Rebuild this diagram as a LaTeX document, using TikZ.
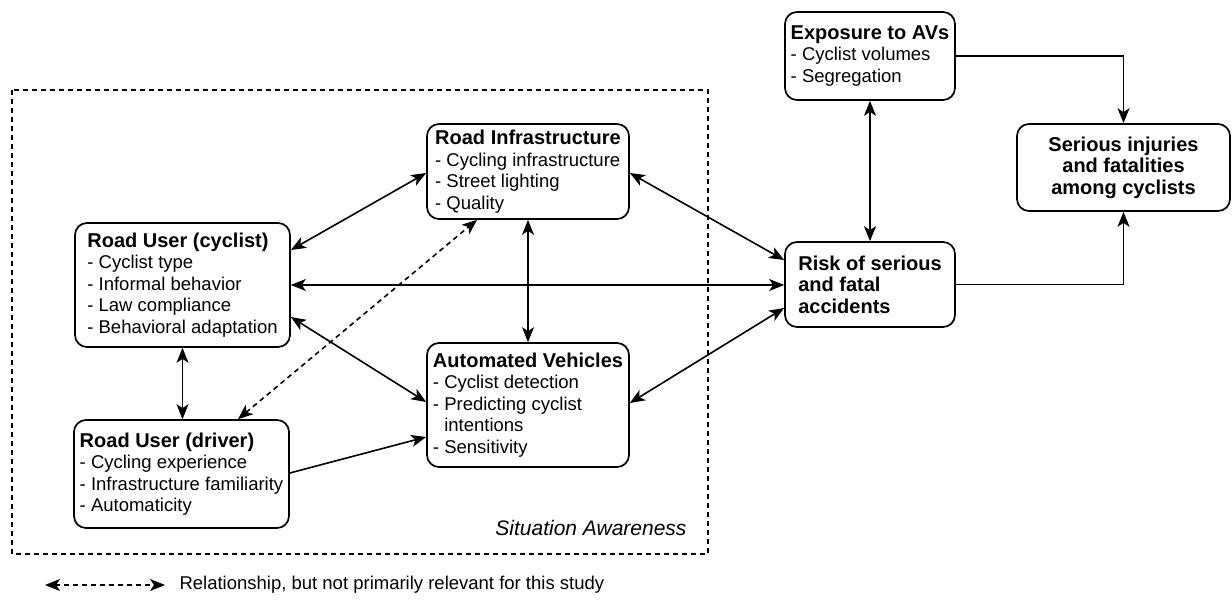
\documentclass[tikz,border=0pt]{standalone}
\usepackage{fontspec}
\setmainfont{Liberation Sans}
\usetikzlibrary{arrows.meta,calc}

\tikzset{
  tip/.tip={Stealth[length=15pt,width=12pt,inset=4pt]},
  box/.style={draw, line width=1.7pt, rounded corners=12pt, align=left,
    inner sep=0pt, font=\fontsize{18.5}{21.5}\selectfont},
  ctrbox/.style={box, align=center},
  link/.style={line width=1.6pt, tip-tip},
  oneway/.style={line width=1.6pt, -tip},
  weak/.style={link, dash pattern=on 5pt off 4pt},
  frame/.style={line width=1.4pt, dash pattern=on 5pt off 4pt},
}
\newcommand{\hd}[1]{{\fontsize{20}{21.5}\selectfont\bfseries #1}}

\begin{document}
\begin{tikzpicture}[x=1pt,y=-1pt]
  \fill[white] (0,0) rectangle (1232,601);
  \useasboundingbox (0,0) rectangle (1232,601);

  % situation awareness frame
  \draw[frame] (12,90) rectangle (708,554);
  \node[anchor=east, font=\fontsize{21}{23}\selectfont\itshape] (sa) at (690,528) {Situation Awareness};

  % factor boxes
  \node[box, minimum width=215pt, minimum height=124pt] (cyclist) at (182.5,285)
    {\hd{Road User (cyclist)}\\- Cyclist type\\- Informal behavior\\- Law compliance\\- Behavioral adaptation};
  \node[box, minimum width=215pt, minimum height=108pt] (driver) at (181.5,474)
    {\hd{Road User (driver)}\\- Cycling experience\\- Infrastructure familiarity\\- Automaticity};
  \node[box, minimum width=202pt, minimum height=95pt] (infra) at (528,171.5)
    {\hd{Road Infrastructure}\\- Cycling infrastructure\\- Street lighting\\- Quality};
  \node[box, minimum width=202pt, minimum height=124pt] (av) at (528,405)
    {\hd{Automated Vehicles}\\- Cyclist detection\\- Predicting cyclist\\\hphantom{- }intentions\\- Sensitivity};
  \node[box, minimum width=170pt, minimum height=88pt] (expo) at (870,56)
    {\hd{Exposure to AVs}\\- Cyclist volumes\\- Segregation};
  \node[box, minimum width=170pt, minimum height=85pt] (risk) at (870,284.5)
    {\hd{Risk of serious}\\\hd{and fatal}\\\hd{accidents}};
  \node[ctrbox, minimum width=213pt, minimum height=87pt] (harm) at (1123.5,167.5)
    {\hd{Serious injuries}\\\hd{and fatalities}\\\hd{among cyclists}};

  % relationships
  \draw[link] ([yshift=35pt]cyclist.east) -- ([yshift=-1.5pt]infra.west);
  \draw[link] (cyclist.east) -- (cyclist.east -| risk.west);
  \draw[link] ([yshift=-32pt]cyclist.east) -- ([yshift=3pt]av.west);
  \draw[oneway] ([yshift=1pt]driver.east) -- ([yshift=-32pt]av.west);
  \draw[weak] ([xshift=56.5pt]driver.north) -- ([xshift=-51pt]infra.south);
  \draw[link] (cyclist.south) -- (cyclist.south |- driver.north);
  \draw[link] (infra.south) -- (av.north);
  \draw[link] ([yshift=-1.5pt]infra.east) -- ([yshift=24.5pt]risk.west);
  \draw[link] ([yshift=2pt]av.east) -- ([yshift=-23.5pt]risk.west);
  \draw[link] (expo.south) -- (risk.north);
  \draw[oneway] (expo.east) -| (harm.north);
  \draw[oneway] (risk.east) -| (harm.south);

  % legend
  \coordinate (lga) at (45,585);
  \coordinate (lgb) at (165,585);
  \draw[weak] (lga) -- (lgb);
  \node[anchor=west, font=\fontsize{18.5}{21.5}\selectfont] (lgt) at (176,585)
    {Relationship, but not primarily relevant for this study};
\end{tikzpicture}
\end{document}
